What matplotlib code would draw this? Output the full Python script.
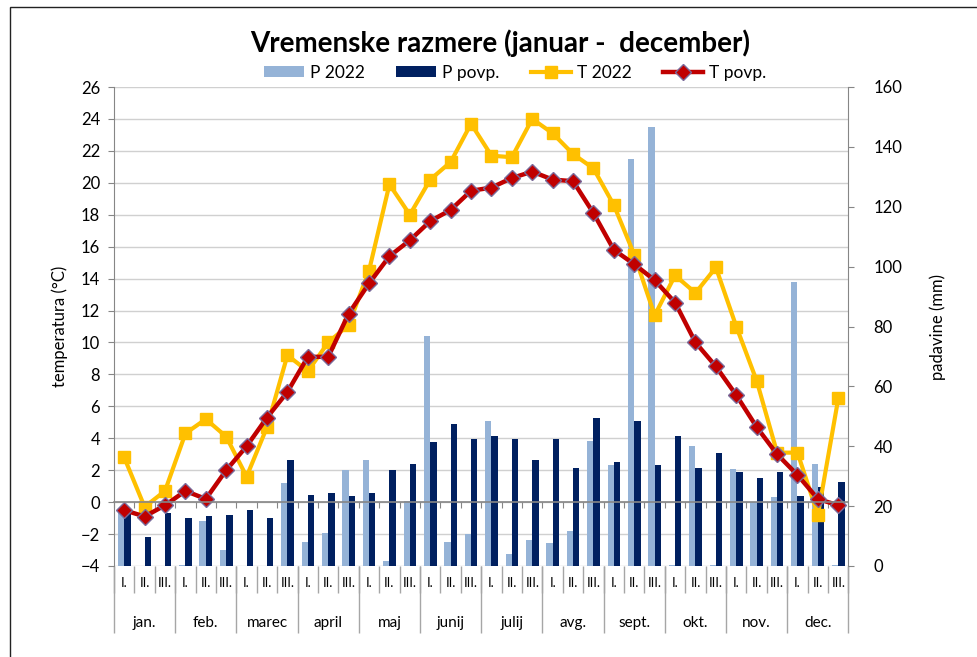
import numpy as np
import matplotlib
matplotlib.use("Agg")
import matplotlib.pyplot as plt
from matplotlib.patches import Rectangle

plt.rcParams['font.family'] = ['Lato', 'DejaVu Sans']

# podatki po dekadah (3 na mesec)
dekade = ["I.", "II.", "III."] * 12
meseci = ["jan.", "feb.", "marec", "april", "maj", "junij",
          "julij", "avg.", "sept.", "okt.", "nov.", "dec."]

t_2022 = [2.8, -0.3, 0.7, 4.3, 5.2, 4.1, 1.6, 4.7, 9.2, 8.2, 10.0, 11.1,
          14.5, 19.9, 18.0, 20.2, 21.3, 23.7, 21.7, 21.6, 24.0, 23.1, 21.8, 20.9,
          18.6, 15.5, 11.7, 14.2, 13.1, 14.7, 11.0, 7.6, 3.1, 3.1, -0.8, 6.5]
t_povp = [-0.5, -0.9, -0.2, 0.7, 0.2, 2.0, 3.5, 5.3, 6.9, 9.1, 9.1, 11.8,
          13.7, 15.4, 16.4, 17.6, 18.3, 19.5, 19.7, 20.3, 20.7, 20.2, 20.1, 18.1,
          15.8, 14.9, 13.9, 12.5, 10.0, 8.5, 6.7, 4.7, 3.0, 1.7, 0.2, -0.2]
p_2022 = [19.0, 0, 0, 0.3, 15.0, 5.3, 0, 0, 27.6, 8.1, 11.1, 32.1,
          35.4, 1.7, 21.8, 76.9, 8.1, 10.7, 48.6, 4.0, 8.7, 7.7, 11.8, 41.7,
          33.7, 135.8, 146.5, 0.3, 40.2, 0.3, 32.4, 21.4, 23.1, 94.8, 34.1, 0.3]
p_povp = [18.0, 9.8, 17.6, 15.9, 16.6, 16.9, 18.6, 16.2, 35.4, 23.6, 24.3, 23.4,
          24.3, 32.1, 34.1, 41.5, 47.3, 42.5, 43.5, 42.5, 35.4, 42.3, 32.7, 49.5,
          34.8, 48.3, 33.7, 43.5, 32.8, 37.8, 31.4, 29.4, 31.4, 23.4, 26.5, 28.0]

x = np.arange(len(dekade))
meje = np.arange(-0.5, len(dekade), 1)
meje_mesecev = np.arange(-0.5, len(dekade), 3)
sredine_mesecev = np.arange(1, len(dekade), 3)

siva = '#868686'

fig = plt.figure(figsize=(9.78, 6.57), dpi=100)
pos = [114 / 978, 1 - 566 / 657, 734.5 / 978, 479 / 657]

# spodnja os: mreža, temperatura, oznake dekad
ax_t = fig.add_axes(pos)
ax_t.set_xlim(-0.5, 35.5)
ax_t.set_ylim(-4, 26)
ax_t.set_yticks(range(-4, 27, 2))
ax_t.grid(axis='y', color='#d0d0d0', linewidth=1)
ax_t.set_axisbelow(True)
for s in ['top', 'right', 'bottom']:
    ax_t.spines[s].set_visible(False)
ax_t.spines['left'].set_color(siva)
ax_t.tick_params(axis='y', direction='out', length=4, color=siva, labelsize=12, pad=6)
ax_t.set_xticks(x, dekade)
ax_t.set_xticks(meje, minor=True)
ax_t.tick_params(axis='x', which='major', length=0, labelsize=9.5, pad=8)
ax_t.tick_params(axis='x', which='minor', length=19.5, color='#a6a6a6', width=1)
ax_t.set_ylabel('temperatura (°C)', fontsize=12)
ax_t.yaxis.set_label_coords(-46 / 734.5, 0.5)

# meseci
sec = ax_t.secondary_xaxis('bottom')
sec.spines['bottom'].set_visible(False)
sec.set_xticks(meje_mesecev, [''] * len(meje_mesecev))
sec.tick_params(length=48, color='#a6a6a6', width=1)
sec2 = ax_t.secondary_xaxis('bottom')
sec2.spines['bottom'].set_visible(False)
sec2.set_xticks(sredine_mesecev, meseci)
sec2.tick_params(length=0, labelsize=11, pad=36)

# padavine
ax_p = ax_t.twinx()
ax_p.set_ylim(0, 160)
ax_p.set_yticks(range(0, 161, 20))
b1 = ax_p.bar(x - 0.155, p_2022, width=0.31, color='#95B3D7', label='P 2022')
b2 = ax_p.bar(x + 0.155, p_povp, width=0.31, color='#002060', label='P povp.')
for s in ['top', 'left', 'bottom']:
    ax_p.spines[s].set_visible(False)
ax_p.spines['right'].set_color(siva)
ax_p.tick_params(axis='y', direction='out', length=4, color=siva, labelsize=12, pad=14)
ax_p.set_ylabel('padavine (mm)', fontsize=12)
ax_p.yaxis.set_label_coords(815 / 734.5, 0.5)

# temperature na vrhu
ax_l = fig.add_axes(pos)
ax_l.patch.set_visible(False)
ax_l.set_xlim(-0.5, 35.5)
ax_l.set_ylim(-4, 26)
ax_l.set_yticks([])
for s in ['top', 'left', 'right']:
    ax_l.spines[s].set_visible(False)
ax_l.spines['bottom'].set_position(('data', 0))
ax_l.spines['bottom'].set_color(siva)
ax_l.spines['bottom'].set_linewidth(1.2)
ax_l.set_xticks(meje, [''] * len(meje))
ax_l.tick_params(axis='x', length=4, color=siva)
l1, = ax_l.plot(x, t_2022, color='#FFC000', linewidth=3, marker='s', markersize=9,
                label='T 2022')
l2, = ax_l.plot(x, t_povp, color='#C00000', linewidth=3.2, marker='D', markersize=8.5,
                markeredgecolor='#7a6a9a', markeredgewidth=1, label='T povp.')

fig.legend([b1, b2, l1, l2], ['P 2022', 'P povp.', 'T 2022', 'T povp.'],
           loc='center', bbox_to_anchor=(515 / 978, 1 - 73 / 657), ncol=4,
           frameon=False, fontsize=12.5, handlelength=2.3, handleheight=0.6,
           handletextpad=0.35, columnspacing=1.8)

fig.text(500 / 978, 1 - 43 / 657, 'Vremenske razmere (januar -  december)',
         ha='center', va='center', fontsize=20, fontweight='bold')

fig.add_artist(Rectangle((9.5 / 978, -0.1), 2, 1.1 - 7 / 657, transform=fig.transFigure,
                         fill=False, edgecolor='#222222', linewidth=1))

fig.savefig('out.png', dpi=100)
